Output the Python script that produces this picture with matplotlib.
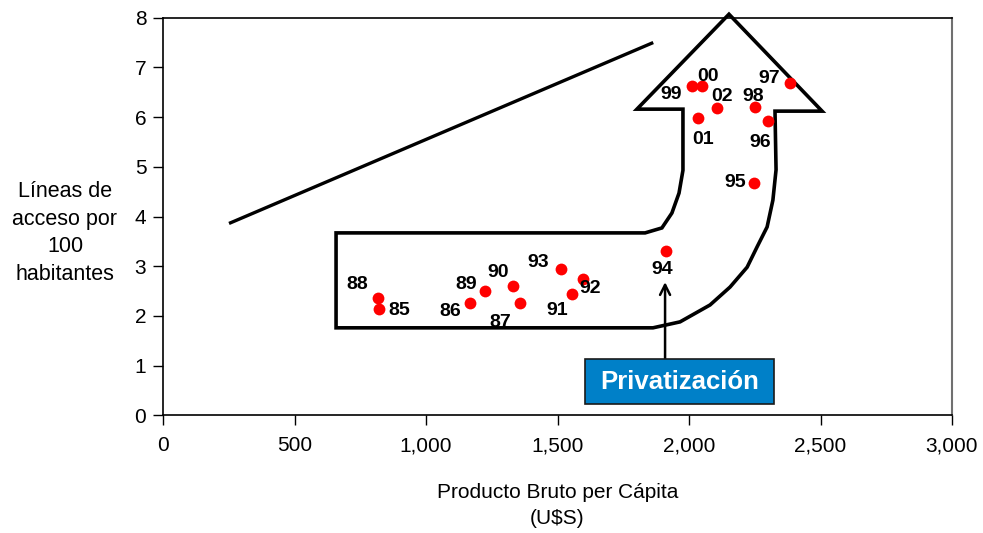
import numpy as np
import matplotlib.pyplot as plt
from matplotlib.path import Path
from matplotlib.patches import PathPatch, Rectangle
from matplotlib.ticker import FuncFormatter

plt.rcParams['font.family'] = ['Liberation Sans', 'DejaVu Sans']

# Datos: PBI per cápita (U$S) y líneas de acceso por 100 habitantes
anios = ["85", "86", "87", "88", "89", "90", "91", "92", "93", "94",
         "95", "96", "97", "98", "99", "00", "01", "02"]
pbi = [821, 1166, 1357, 816, 1224, 1330, 1555, 1597, 1513, 1914,
       2248, 2299, 2385, 2252, 2013, 2048, 2033, 2106]
lineas = [2.13, 2.25, 2.25, 2.37, 2.51, 2.61, 2.45, 2.74, 2.94, 3.31,
          4.68, 5.93, 6.68, 6.20, 6.63, 6.62, 5.99, 6.19]

# décalage des étiquettes (pixels)
dx = [20, -19, -20, -20, -19, -15, -15, 7, -23, -4,
      -19, -7, -21, -2, -21, 6, 5, 5]
dy = [-1, -8, -19, 13, 6, 13, -17, -9, 7, -19,
      0, -22, 5, 11, -9, 10, -22, 11]

# tendance
tend_x = [251, 1864]
tend_y = [3.86, 7.50]

# contour de la flèche
fleche_x = [658, 1833, 1897, 1935, 1962, 1977, 1977, 1802, 2152, 2506, 2327,
            2331, 2319, 2297, 2259, 2221, 2156, 2080, 1966, 1863, 658]
fleche_y = [3.67, 3.67, 3.77, 4.07, 4.47, 4.93, 6.16, 6.16, 8.07, 6.12, 6.12,
            4.94, 4.33, 3.79, 3.39, 2.98, 2.58, 2.22, 1.88, 1.76, 1.76]

fig = plt.figure(figsize=(9.83, 5.33), dpi=100)
ax = fig.add_axes([163/983, 1-415.3/533, (952-163)/983, (415.3-17.7)/533])

verts = list(zip(fleche_x, fleche_y)) + [(fleche_x[0], fleche_y[0])]
codes = [Path.MOVETO] + [Path.LINETO]*(len(verts)-2) + [Path.CLOSEPOLY]
ax.add_patch(PathPatch(Path(verts, codes), facecolor='none', edgecolor='black',
                       lw=2.6, joinstyle='miter', clip_on=False, zorder=2))

ax.plot(tend_x, tend_y, color='black', lw=2.4, solid_capstyle='butt', zorder=2)

ax.plot(pbi, lineas, 'o', color='#ff0000', markersize=8.5, markeredgewidth=0, zorder=3)
for a, xx, yy, ox, oy in zip(anios, pbi, lineas, dx, dy):
    ax.annotate(a, (xx, yy), xytext=(ox, oy), textcoords='offset pixels',
                ha='center', va='center', fontsize=14, fontweight='bold', zorder=4)

# privatización
ax.annotate('', xy=(1909, 2.68), xytext=(1909, 1.13),
            arrowprops=dict(arrowstyle='->', lw=1.8, color='black',
                            mutation_scale=18, shrinkA=0, shrinkB=0))
ax.add_patch(Rectangle((1605, 0.227), 718, 0.906, facecolor='#0080c8',
                       edgecolor='#1a1a1a', lw=1.2, zorder=5))
ax.text(1964, 0.66, 'Privatización', ha='center', va='center', fontsize=18.5,
        fontweight='bold', color='white', zorder=6)

ax.set_xlim(0, 3000)
ax.set_ylim(0, 8)
ax.set_xticks(np.arange(0, 3001, 500))
ax.set_yticks(np.arange(0, 9, 1))
ax.xaxis.set_major_formatter(FuncFormatter(lambda v, p: f"{int(v):,}"))
ax.tick_params(direction='out', length=7, width=1, labelsize=15)
ax.tick_params(axis='x', pad=8)
ax.tick_params(axis='y', pad=5)
for s in ['left', 'bottom', 'top']:
    ax.spines[s].set_linewidth(1.2)
ax.spines['right'].set_color('#707070')
ax.spines['right'].set_linewidth(1.5)

ax.set_xlabel("Producto Bruto per Cápita\n(U$S)", fontsize=15, labelpad=20,
              linespacing=1.45)
fig.text(65/983, 1-233/533, "Líneas de\nacceso por\n100\nhabitantes",
         ha='center', va='center', fontsize=15.5, linespacing=1.4)

fig.savefig("out.png", dpi=100)
